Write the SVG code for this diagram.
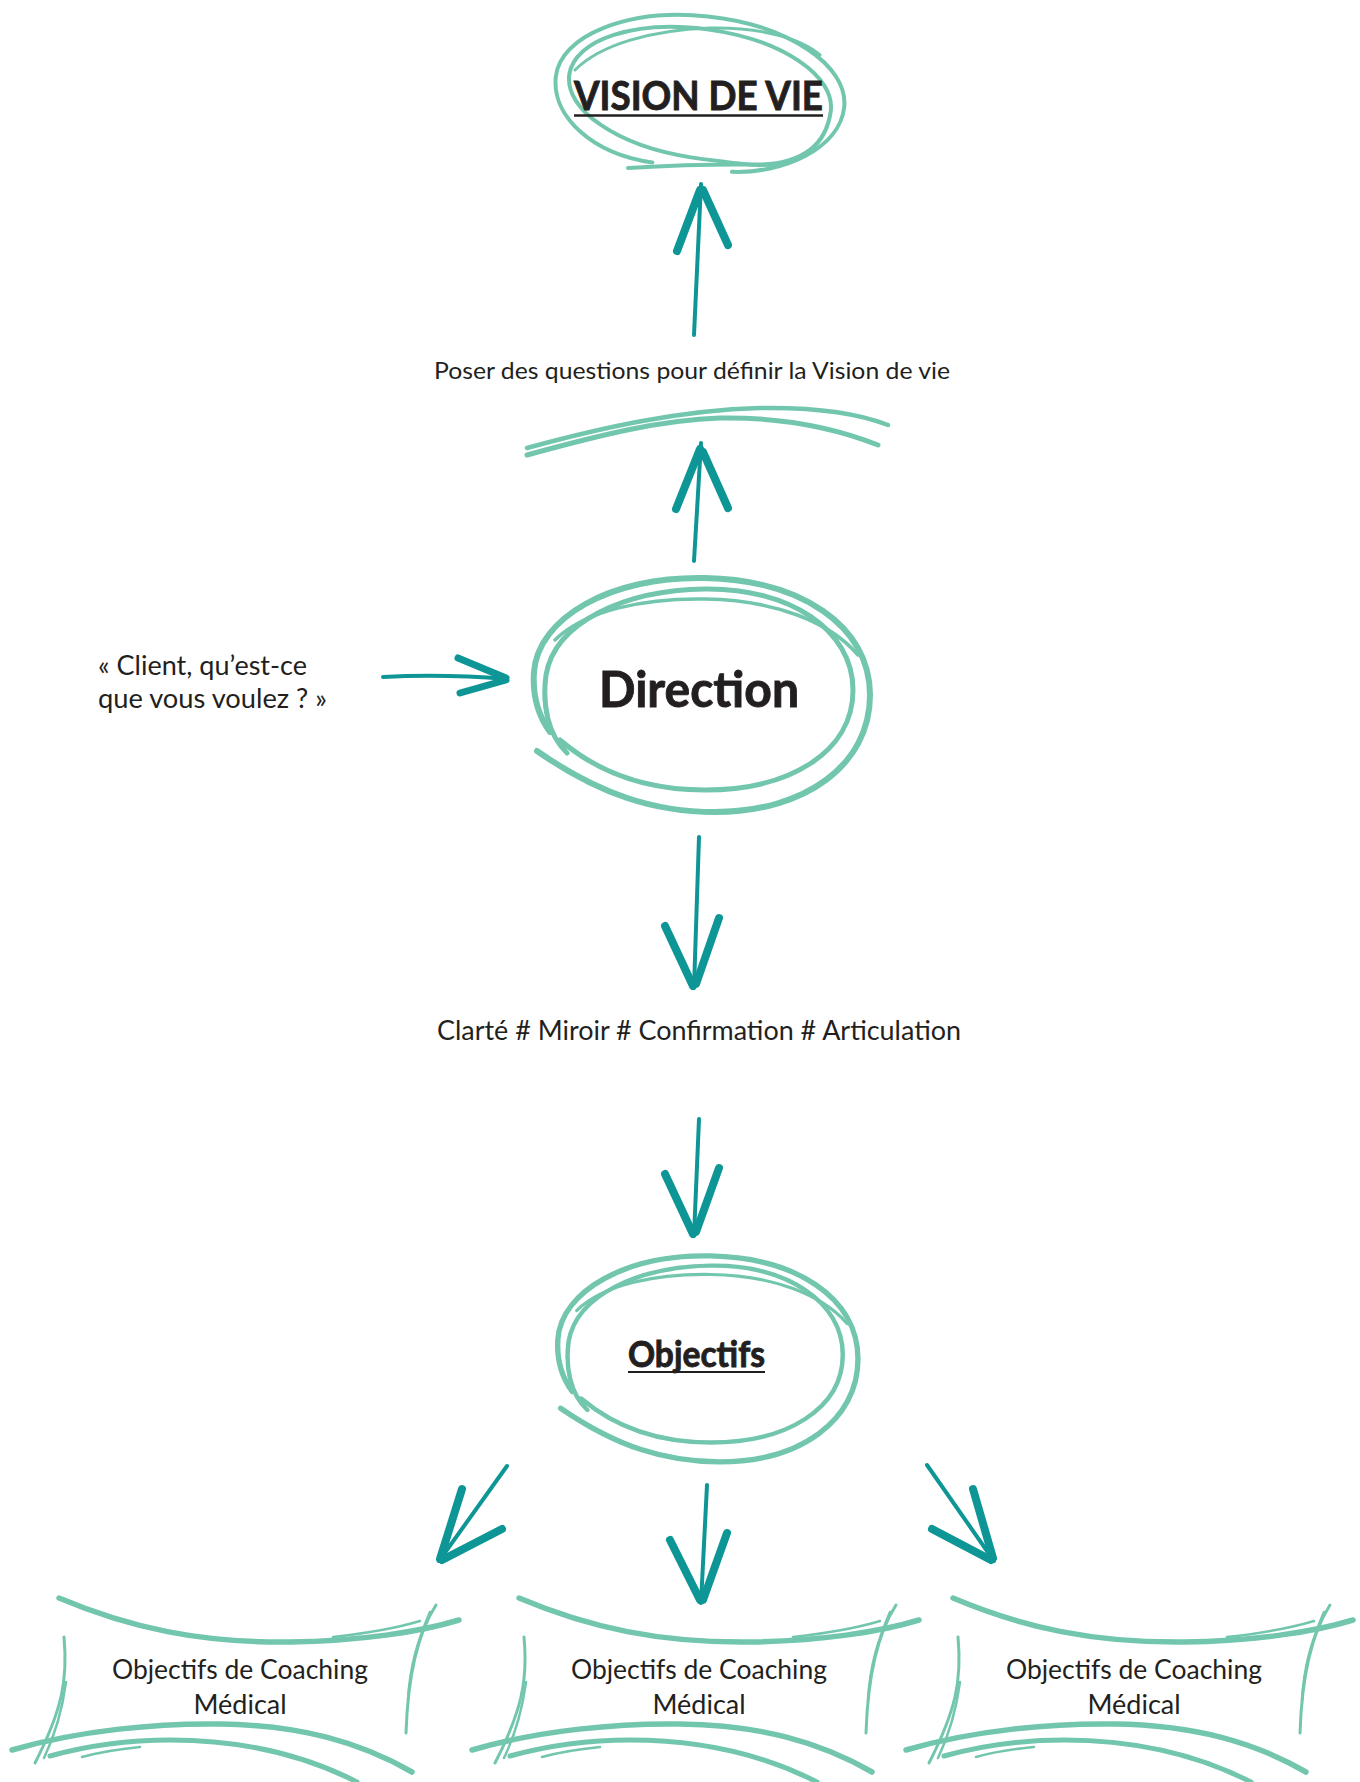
<svg xmlns="http://www.w3.org/2000/svg" xmlns:xlink="http://www.w3.org/1999/xlink" width="1360" height="1782" viewBox="0 0 1360 1782">
<style>
.lt{fill:none;stroke:#72C6AE;stroke-linecap:round;stroke-linejoin:round}
.dk{fill:none;stroke:#0E9696;stroke-linecap:round;stroke-linejoin:round}
.sh{stroke-width:4}
.bb{stroke-width:8}
.t{font-family:Lato,"Open Sans","Liberation Sans",sans-serif;fill:#231F20}
.b{font-weight:bold;stroke:#231F20;stroke-width:0.9}
</style>
<defs>
<g id="loop">
<path class="lt" stroke-width="6" d="M 537 751 C 600 795 655 812 715 812 C 805 812 870 765 870 695 C 870 625 800 580 705 578 C 610 576 538 618 534 672 C 532 700 540 718 550 732"/>
<path class="lt" stroke-width="5" d="M 567 753 C 548 735 542 705 546 675 C 555 622 625 590 705 589 C 790 588 853 630 853 690 C 853 752 790 790 705 790 C 640 790 595 770 560 740"/>
<path class="lt" stroke-width="3.5" d="M 555 640 C 585 610 645 598 705 599 C 775 600 830 622 858 655"/>
</g>
<g id="bracket">
<path class="lt" stroke-width="5.5" d="M 59 1598 C 130 1628 200 1643 290 1642 C 360 1641 420 1632 459 1620"/>
<path class="lt" stroke-width="2.5" d="M 333 1637 C 370 1633 400 1627 420 1621"/>
<path class="lt" stroke-width="3" d="M 436 1605 C 420 1630 408 1670 406 1733"/>
<path class="lt" stroke-width="2.5" d="M 430 1612 C 418 1640 410 1665 408 1700"/>
<path class="lt" stroke-width="3" d="M 64 1637 C 68 1680 62 1710 35 1763"/>
<path class="lt" stroke-width="2.5" d="M 66 1682 C 62 1712 55 1735 44 1758"/>
<path class="lt" stroke-width="5.5" d="M 12 1750 C 80 1730 160 1723 220 1724 C 300 1725 360 1742 412 1772"/>
<path class="lt" stroke-width="5" d="M 50 1756 C 90 1745 130 1740 170 1740 C 250 1740 310 1758 357 1782"/>
<path class="lt" stroke-width="2.5" d="M 82 1757 C 100 1752 120 1749 140 1747"/>
</g>
</defs>
<rect width="1360" height="1782" fill="#FFFFFF"/>

<g id="vision">
<path class="lt" stroke-width="4" transform="rotate(6 700 92)" d="M 660 167 C 600 165 555 132 555 92 C 555 50 620 16 700 16 C 780 16 845 50 845 92 C 845 134 790 165 740 168"/>
<path class="lt" stroke-width="4" transform="rotate(8 700 93)" d="M 760 157 C 820 150 832 120 832 93 C 832 58 775 29 700 29 C 625 29 568 58 568 93 C 568 128 625 157 700 158 C 730 158 750 158 770 156"/>
<path class="lt" stroke-width="3" d="M 575 70 C 600 45 650 30 710 28 C 760 27 800 38 820 55"/>
<path class="lt" stroke-width="4" d="M 628 168 C 680 165 730 164 773 165"/>
<text class="t b" x="698.5" y="110" font-size="40" text-anchor="middle" textLength="249" lengthAdjust="spacingAndGlyphs">VISION DE VIE</text>
<line x1="574" y1="115.5" x2="823" y2="115.5" stroke="#231F20" stroke-width="2.5"/>
</g>

<g id="poser">
<text class="t" x="692" y="379" font-size="24" text-anchor="middle" textLength="516" lengthAdjust="spacingAndGlyphs">Poser des questions pour définir la Vision de vie</text>
<path class="lt" stroke-width="4.5" d="M 527 448 C 600 428 680 410 760 408 C 820 407 860 414 888 425"/>
<path class="lt" stroke-width="5" d="M 527 455 C 600 435 660 420 720 418 C 790 417 840 430 878 445"/>
</g>

<g id="direction">
<use xlink:href="#loop"/>
<text class="t b" x="699" y="707" font-size="50" text-anchor="middle" textLength="200" lengthAdjust="spacingAndGlyphs">Direction</text>
</g>

<g id="client">
<text class="t" x="98" y="675" font-size="26" textLength="209" lengthAdjust="spacingAndGlyphs">« Client, qu’est-ce</text>
<text class="t" x="98" y="708" font-size="26" textLength="229" lengthAdjust="spacingAndGlyphs">que vous voulez ? »</text>
</g>

<g id="clarte">
<text class="t" x="699" y="1040" font-size="26" text-anchor="middle" textLength="524" lengthAdjust="spacingAndGlyphs">Clarté # Miroir # Confirmation # Articulation</text>
</g>

<g id="objectifs">
<use xlink:href="#loop" transform="translate(707.5 1358.5) scale(0.893 0.88) translate(-701.5 -694.5)"/>
<text class="t b" x="696.5" y="1367" font-size="36" text-anchor="middle" textLength="137" lengthAdjust="spacingAndGlyphs">Objectifs</text>
<line x1="628" y1="1372" x2="765" y2="1372" stroke="#231F20" stroke-width="2.2"/>
</g>

<g id="box1">
<use xlink:href="#bracket"/>
<text class="t" x="240" y="1679" font-size="27" text-anchor="middle" textLength="256" lengthAdjust="spacingAndGlyphs">Objectifs de Coaching</text>
<text class="t" x="240" y="1714" font-size="27" text-anchor="middle" textLength="93" lengthAdjust="spacingAndGlyphs">Médical</text>
</g>
<g id="box2">
<use xlink:href="#bracket" transform="translate(460 0)"/>
<text class="t" x="699" y="1679" font-size="27" text-anchor="middle" textLength="256" lengthAdjust="spacingAndGlyphs">Objectifs de Coaching</text>
<text class="t" x="699" y="1714" font-size="27" text-anchor="middle" textLength="93" lengthAdjust="spacingAndGlyphs">Médical</text>
</g>
<g id="box3">
<use xlink:href="#bracket" transform="translate(894 0)"/>
<text class="t" x="1134" y="1679" font-size="27" text-anchor="middle" textLength="256" lengthAdjust="spacingAndGlyphs">Objectifs de Coaching</text>
<text class="t" x="1134" y="1714" font-size="27" text-anchor="middle" textLength="93" lengthAdjust="spacingAndGlyphs">Médical</text>
</g>

<g id="connectors">
<path class="dk sh" d="M 694 335 L 701 184"/>
<path class="dk bb" d="M 677 251 L 700 190 M 728 245 L 703 190"/>
<path class="dk sh" d="M 694 561 L 701 443"/>
<path class="dk bb" d="M 676 509 L 700 449 M 728 508 L 703 452"/>
<path class="dk sh" d="M 383 677 C 420 675 470 676 507 679"/>
<path class="dk" stroke-width="7" d="M 458 658 L 506 678 M 460 693 L 506 680"/>
<path class="dk sh" d="M 699 837 L 694 988"/>
<path class="dk bb" d="M 665 926 L 693 986 M 719 918 L 696 984"/>
<path class="dk sh" d="M 699 1119 L 694 1236"/>
<path class="dk bb" d="M 665 1174 L 693 1234 M 719 1168 L 696 1232"/>
<path class="dk sh" d="M 507 1466 L 439 1561"/>
<path class="dk bb" d="M 462 1489 L 440 1559 M 502 1529 L 442 1560"/>
<path class="dk sh" d="M 707 1485 L 701 1603"/>
<path class="dk bb" d="M 670 1540 L 700 1600 M 727 1533 L 703 1600"/>
<path class="dk sh" d="M 927 1465 L 994 1561"/>
<path class="dk bb" d="M 973 1489 L 993 1558 M 932 1529 L 991 1560"/>
</g>
</svg>
